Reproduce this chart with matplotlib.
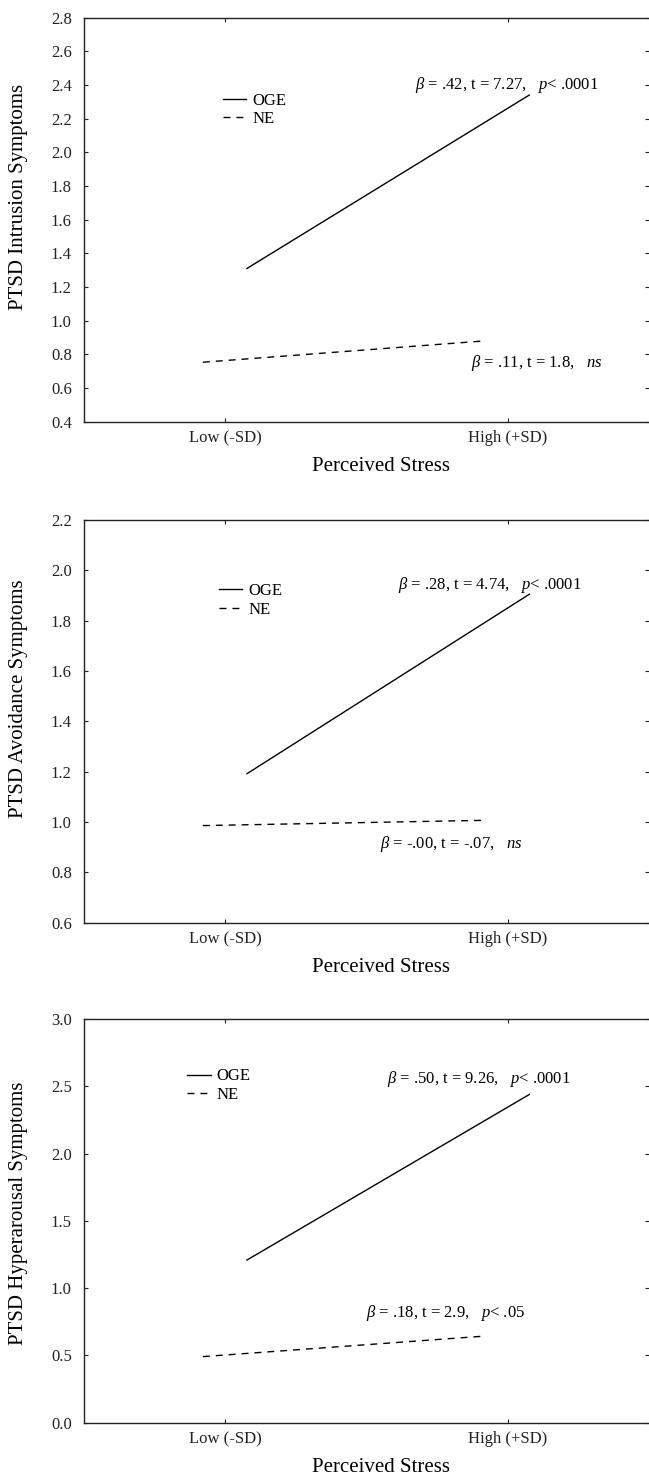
import numpy as np
import matplotlib
matplotlib.use("Agg")
import matplotlib.pyplot as plt

plt.rcParams['font.family'] = ['Liberation Serif', 'DejaVu Serif']
plt.rcParams['mathtext.fontset'] = 'custom'
plt.rcParams['mathtext.rm'] = 'Liberation Serif'
plt.rcParams['mathtext.it'] = 'Liberation Serif:italic'

# stress levels on the x axis
stress_levels = ['Low (-SD)', 'High (+SD)']
group_names = ['OGE', 'NE']

# simple slopes (Low, High)
intrusion_oge = [1.31, 2.34]
intrusion_ne = [0.753, 0.88]
avoidance_oge = [1.192, 1.905]
avoidance_ne = [0.986, 1.007]
hyper_oge = [1.209, 2.44]
hyper_ne = [0.491, 0.644]

y_labels = ['PTSD Intrusion Symptoms', 'PTSD Avoidance Symptoms',
            'PTSD Hyperarousal Symptoms']
oge_notes = [r'$\beta$ = .42, t = 7.27,   $p$< .0001',
             r'$\beta$ = .28, t = 4.74,   $p$< .0001',
             r'$\beta$ = .50, t = 9.26,   $p$< .0001']
ne_notes = [r'$\beta$ = .11, t = 1.8,   $ns$',
            r'$\beta$ = -.00, t = -.07,   $ns$',
            r'$\beta$ = .18, t = 2.9,   $p$< .05']

# layout of each panel
panels = [
    dict(oge=intrusion_oge, ne=intrusion_ne, ylim=(0.4, 2.8), step=0.2,
         bottom=0.7149, height=0.2732, oge_pos=(0.67, 2.397), ne_pos=(0.868, 0.751),
         leg=(-0.009, 2.252), ylab_y=0.555),
    dict(oge=avoidance_oge, ne=avoidance_ne, ylim=(0.6, 2.2), step=0.2,
         bottom=0.3761, height=0.2723, oge_pos=(0.612, 1.942), ne_pos=(0.549, 0.911),
         leg=(-0.023, 1.881), ylab_y=0.556),
    dict(oge=hyper_oge, ne=hyper_ne, ylim=(0.0, 3.0), step=0.5,
         bottom=0.0381, height=0.2728, oge_pos=(0.572, 2.552), ne_pos=(0.499, 0.813),
         leg=(-0.135, 2.506), ylab_y=0.52),
]

x = np.arange(len(stress_levels))
oge_shift = 0.076
ne_shift = -0.08

fig = plt.figure(figsize=(6.49, 14.79), dpi=100)

for i, p in enumerate(panels):
    ax = fig.add_axes([0.1299, p['bottom'], 0.8701, p['height']])
    l1, = ax.plot(x + oge_shift, p['oge'], color='black', lw=1.0, label=group_names[0])
    l2, = ax.plot(x + ne_shift, p['ne'], color='black', lw=1.0,
                  dashes=(5, 4.3), label=group_names[1])

    ax.set_xlim(-0.5, 1.5)
    ax.set_ylim(*p['ylim'])
    ax.set_yticks(np.arange(p['ylim'][0], p['ylim'][1] + 1e-9, p['step']))
    ax.yaxis.set_major_formatter(matplotlib.ticker.FormatStrFormatter('%.1f'))
    ax.set_xticks(x)
    ax.set_xticklabels(stress_levels)

    ax.tick_params(direction='in', length=3, width=0.8, top=True, right=True,
                   labelsize=12, colors='#222222')
    ax.tick_params(axis='y', pad=9)
    ax.tick_params(axis='x', pad=6)
    ax.spines['right'].set_visible(False)
    for s in ['left', 'bottom', 'top']:
        ax.spines[s].set_linewidth(1.0)
        ax.spines[s].set_color('#222222')

    ax.text(-0.1167, p['ylab_y'], y_labels[i], rotation=90, ha='center', va='center',
            fontsize=15, transform=ax.transAxes)
    ax.text(0.526, -45 / 404, 'Perceived Stress', ha='center', va='center',
            fontsize=15, transform=ax.transAxes)

    ax.text(*p['oge_pos'], oge_notes[i], ha='left', va='center', fontsize=12)
    ax.text(*p['ne_pos'], ne_notes[i], ha='left', va='center', fontsize=12)

    ax.legend(handles=[l1, l2], loc='center left', bbox_to_anchor=p['leg'],
              bbox_transform=ax.transData, frameon=False, fontsize=12,
              handlelength=1.4, handletextpad=0.35, labelspacing=0.15,
              borderpad=0, borderaxespad=0)

fig.savefig('out.png', dpi=100)
